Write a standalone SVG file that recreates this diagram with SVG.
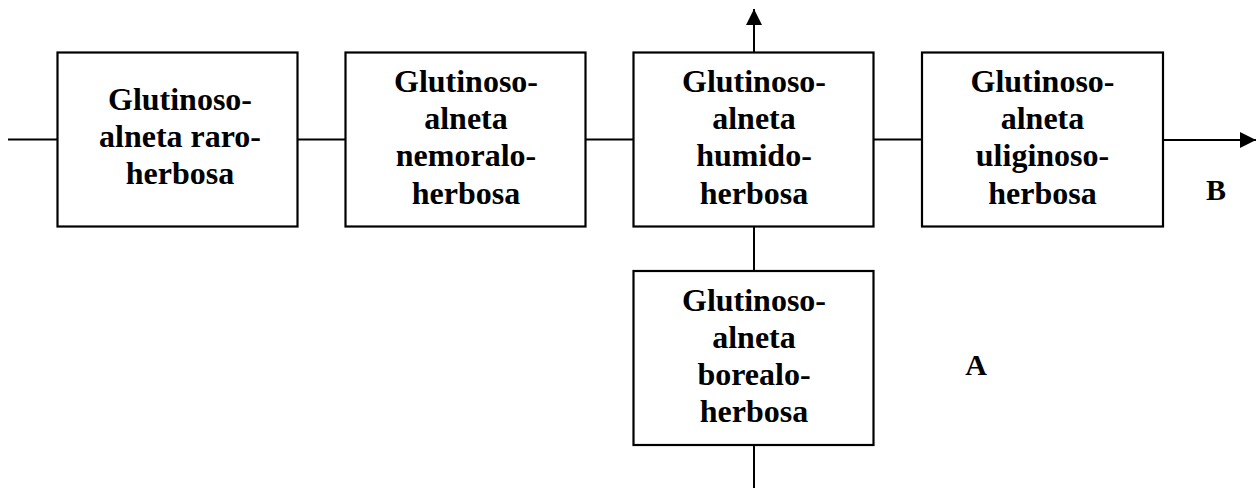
<svg xmlns="http://www.w3.org/2000/svg" width="1256" height="488" viewBox="0 0 1256 488">
<defs>
<style>
.box{fill:#fff;stroke:#000;stroke-width:2.2}
.lbl{font-family:"Liberation Serif","Times New Roman",serif;font-weight:bold;font-size:32px;fill:#000;text-anchor:middle}
.big{font-family:"Liberation Serif","Times New Roman",serif;font-weight:bold;font-size:30px;fill:#000;text-anchor:middle}
.con{stroke:#000;stroke-width:2;fill:none}
</style>
<marker id="arr" viewBox="0 0 10 10" refX="10" refY="5" markerWidth="16" markerHeight="16" markerUnits="userSpaceOnUse" orient="auto">
<path d="M0,0 L10,5 L0,10 z" fill="#000"/>
</marker>
</defs>
<rect width="1256" height="488" fill="#fff"/>
<g id="connectors">
<line class="con" x1="8" y1="139.5" x2="57" y2="139.5"/>
<line class="con" x1="298" y1="139.5" x2="345" y2="139.5"/>
<line class="con" x1="586" y1="139.5" x2="633" y2="139.5"/>
<line class="con" x1="874" y1="139.5" x2="922" y2="139.5"/>
<line class="con" x1="1163" y1="140" x2="1256" y2="140" marker-end="url(#arr)"/>
<line class="con" x1="754" y1="52" x2="754" y2="9" marker-end="url(#arr)"/>
<line class="con" x1="754" y1="227" x2="754" y2="271"/>
<line class="con" x1="754" y1="445" x2="754" y2="488"/>
</g>
<g id="n1">
<rect class="box" x="57.5" y="52.5" width="240" height="174"/>
<text class="lbl" x="180" y="109.5">Glutinoso-</text>
<text class="lbl" x="180" y="146.5">alneta raro-</text>
<text class="lbl" x="180" y="183.5">herbosa</text>
</g>
<g id="n2">
<rect class="box" x="345.5" y="52.5" width="240" height="174"/>
<text class="lbl" x="466" y="91.7">Glutinoso-</text>
<text class="lbl" x="466" y="129">alneta</text>
<text class="lbl" x="466" y="166.3">nemoralo-</text>
<text class="lbl" x="466" y="203.5">herbosa</text>
</g>
<g id="n3">
<rect class="box" x="633.5" y="52.5" width="240" height="174"/>
<text class="lbl" x="754" y="91.7">Glutinoso-</text>
<text class="lbl" x="754" y="129">alneta</text>
<text class="lbl" x="754" y="166.3">humido-</text>
<text class="lbl" x="754" y="203.5">herbosa</text>
</g>
<g id="n4">
<rect class="box" x="922" y="52.5" width="241" height="174"/>
<text class="lbl" x="1042.5" y="91.7">Glutinoso-</text>
<text class="lbl" x="1042.5" y="129">alneta</text>
<text class="lbl" x="1042.5" y="166.3">uliginoso-</text>
<text class="lbl" x="1042.5" y="203.5">herbosa</text>
</g>
<g id="n5">
<rect class="box" x="633.5" y="271" width="240" height="174"/>
<text class="lbl" x="754" y="310.7">Glutinoso-</text>
<text class="lbl" x="754" y="348">alneta</text>
<text class="lbl" x="754" y="385.3">borealo-</text>
<text class="lbl" x="754" y="422">herbosa</text>
</g>
<g id="labels">
<text class="big" x="1216" y="199.5">B</text>
<text class="big" x="976" y="375">A</text>
</g>
</svg>
